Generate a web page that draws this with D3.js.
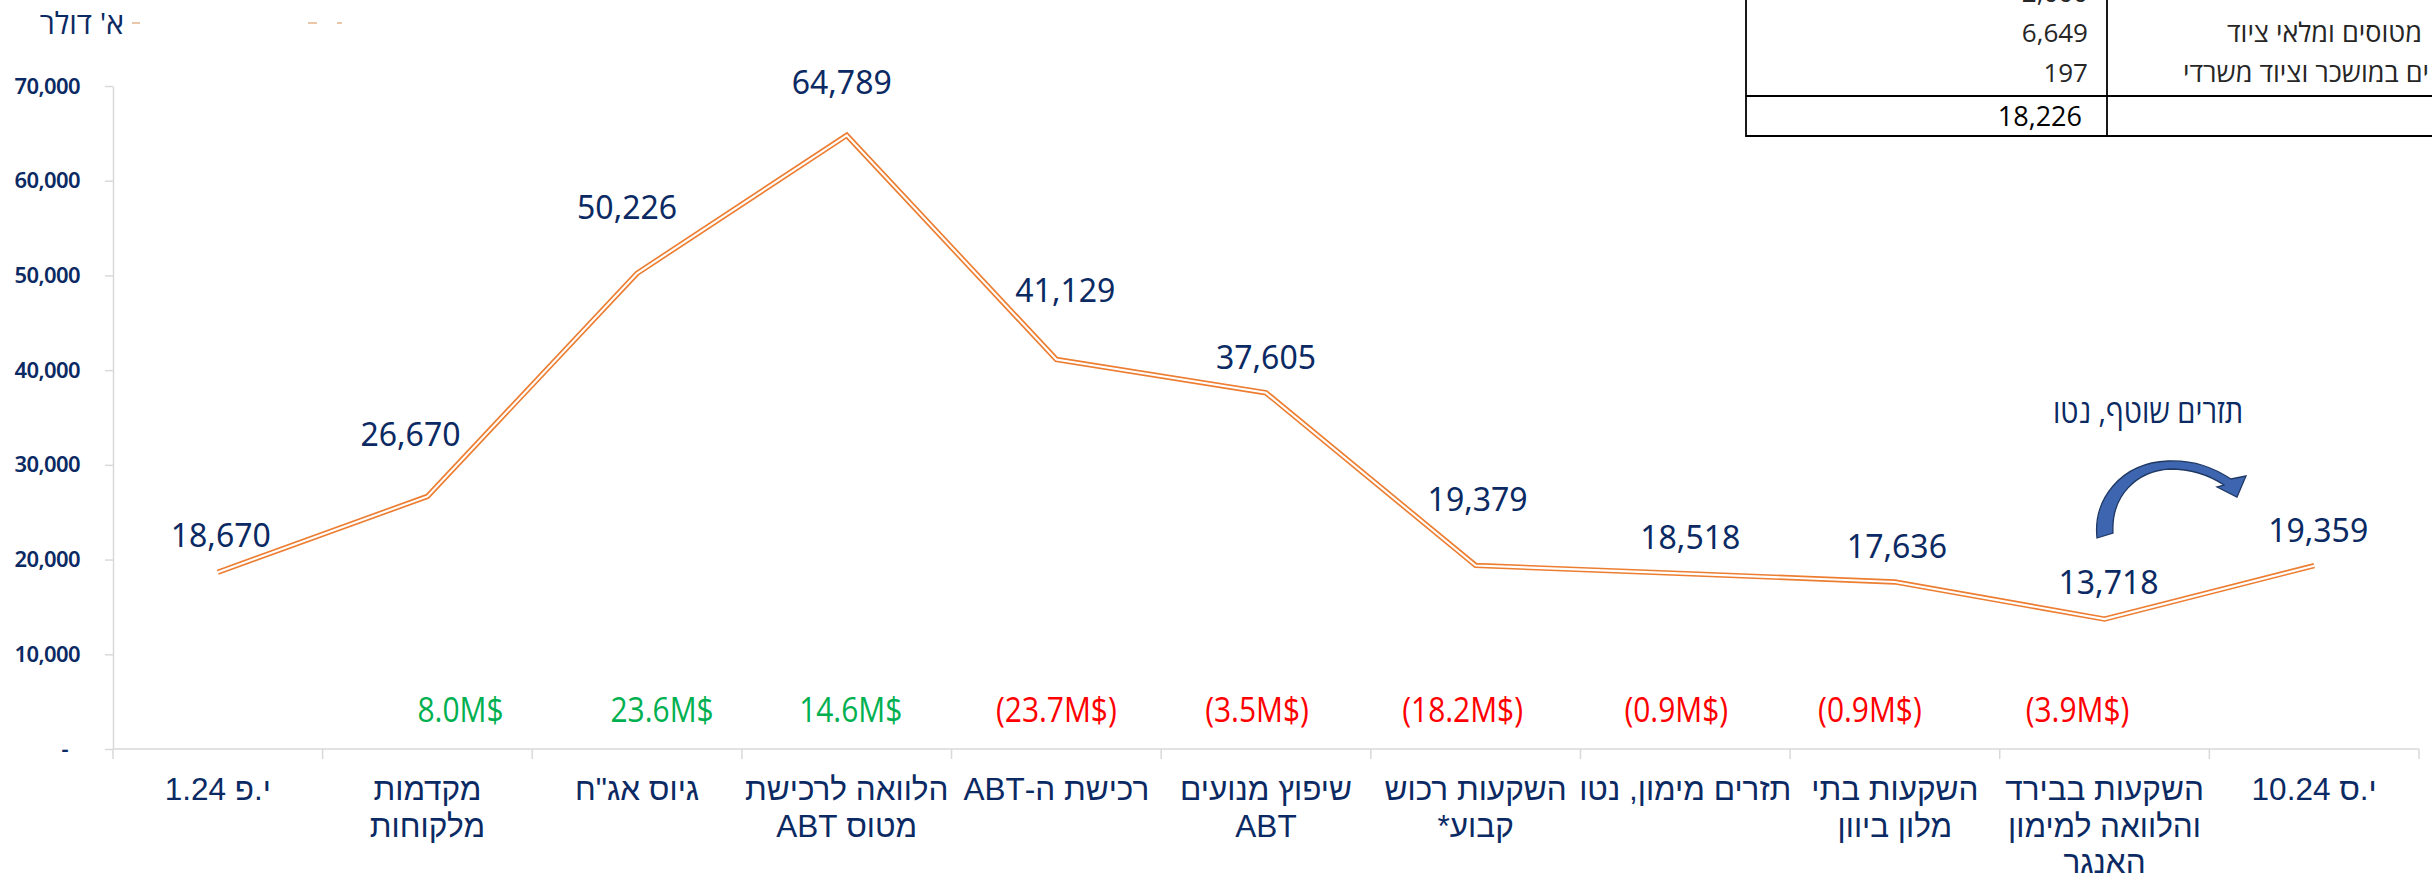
<!DOCTYPE html>
<html><head><meta charset="utf-8">
<script src="https://cdn.jsdelivr.net/npm/d3@7/dist/d3.min.js"></script>
<style>body{margin:0;background:#fff}svg{display:block}</style>
</head><body>
<svg id="chart" width="2432" height="882"></svg>
<script>
// ---- data ----
const categories = [
  ["י.פ 1.24"],
  ["מקדמות", "מלקוחות"],
  ["גיוס אג\"ח"],
  ["הלוואה לרכישת", "מטוס ABT"],
  ["רכישת ה-ABT"],
  ["שיפוץ מנועים", "ABT"],
  ["השקעות רכוש", "קבוע*"],
  ["תזרים מימון, נטו"],
  ["השקעות בתי", "מלון ביוון"],
  ["השקעות בבירד", "והלוואה למימון", "האנגר"],
  ["י.ס 10.24"]
];
const balances = [18670, 26670, 50226, 64789, 41129, 37605, 19379, 18518, 17636, 13718, 19359];
const changesM = [null, 8.0, 23.6, 14.6, -23.7, -3.5, -18.2, -0.9, -0.9, -3.9, null];
const yTicks = [0, 10000, 20000, 30000, 40000, 50000, 60000, 70000];
const unitTitle = "א' דולר";
const arrowNote = "תזרים שוטף, נטו";
const tableLabels = ["", "מטוסים ומלאי ציוד", "ים במושכר וציוד משרדי"];
const tableValues = ["2,000", "6,649", "197"];
const tableTotal = "18,226";

// ---- manual label nudges (layout, kept apart from data) ----
const labelDx = [3, -17, -10, -5, 9, 0, 2, 5, 2, 4, 4];
const labelDy = [25, 50, 54, 41, 57, 24, 54, 25, 24, 25, 24];
const changeDx = [0, 33, 25, 4, 0, -9, -13, -9, -25, -27, 0];

const navy = "#0B2A63";
const svg = d3.select("#chart");

const x = d3.scaleBand().domain(d3.range(categories.length)).range([113, 2419]).padding(0);
const y = d3.scaleLinear().domain([0, 70000]).range([749, 86]);
const cx = i => x(i) + x.bandwidth() / 2;

// narrow-text helper: taller, condensed glyphs
function narrowText(g, tx, ty, str, size, fill, anchor, dir, sx) {
  return g.append("text")
    .attr("transform", `translate(${tx},${ty}) scale(${sx || 0.88},1)`)
    .attr("text-anchor", anchor).attr("direction", dir)
    .attr("font-family", "'Open Sans'").attr("font-size", size).attr("fill", fill)
    .text(str);
}

// y axis
const yAxis = d3.axisLeft(y).tickValues(yTicks).tickSize(8).tickSizeOuter(0).tickPadding(25)
  .tickFormat(d => d === 0 ? "-" : d3.format(",")(d));
const gy = svg.append("g").attr("transform", "translate(113,0)").call(yAxis);
gy.select(".domain").attr("stroke", "#D9D9D9").attr("stroke-width", 1.5);
gy.selectAll(".tick line").attr("stroke", "#D9D9D9").attr("stroke-width", 1.5);
gy.selectAll(".tick text").attr("fill", navy).attr("font-family", "'Noto Sans'")
  .attr("font-size", 22).attr("font-weight", 600).attr("letter-spacing", -0.6)
  .attr("dx", d => d === 0 ? -12 : 0);

// x axis line + boundary ticks
const gx = svg.append("g");
gx.append("line").attr("x1", 113).attr("x2", x.range()[1]).attr("y1", y(0)).attr("y2", y(0))
  .attr("stroke", "#D9D9D9").attr("stroke-width", 1.5);
const bounds = d3.range(categories.length).map(i => x(i)).concat([x.range()[1]]);
gx.selectAll("line.b").data(bounds).join("line").attr("class", "b")
  .attr("x1", d => d).attr("x2", d => d).attr("y1", y(0)).attr("y2", y(0) + 10)
  .attr("stroke", "#D9D9D9").attr("stroke-width", 1.5);

// category labels (one text per line; compact line box font)
const catG = svg.append("g");
categories.forEach((lines, i) => {
  lines.forEach((s, k) => {
    catG.append("text")
      .attr("x", cx(i)).attr("y", 800 + k * 36.5)
      .attr("text-anchor", "middle").attr("direction", "rtl")
      .attr("font-family", "'Liberation Sans', Arial").attr("font-size", 31.5).attr("fill", navy)
      .text(s);
  });
});

// change labels
const fmtChange = v => v > 0 ? v.toFixed(1) + "M$" : "(" + Math.abs(v).toFixed(1) + "M$)";
const chG = svg.append("g");
changesM.forEach((v, i) => {
  if (v === null) return;
  narrowText(chG, cx(i) + changeDx[i], 722, fmtChange(v), 34, v > 0 ? "#00B050" : "#FF0000", "middle", "ltr");
});

// double orange line
const line = d3.line().x((d, i) => cx(i)).y(d => y(d));
svg.append("path").datum(balances).attr("d", line).attr("fill", "none")
  .attr("stroke", "#ED7D31").attr("stroke-width", 5.4).attr("stroke-linejoin", "miter");
svg.append("path").datum(balances).attr("d", line).attr("fill", "none")
  .attr("stroke", "#fff").attr("stroke-width", 2.1).attr("stroke-linejoin", "miter");

// data labels
svg.append("g").selectAll("text").data(balances).join("text")
  .attr("x", (d, i) => cx(i) + labelDx[i]).attr("y", (d, i) => y(d) - labelDy[i])
  .attr("text-anchor", "middle").attr("font-family", "'Noto Sans'").attr("font-size", 32)
  .attr("fill", navy).text(d => d3.format(",")(d));

// unit title
svg.append("text").attr("x", 124).attr("y", 34).attr("text-anchor", "start").attr("direction", "rtl")
  .attr("font-family", "'Open Sans'").attr("font-size", 30).attr("fill", navy).text(unitTitle);
// faint clipped marks at top
[[132, 140], [308, 317], [337, 342]].forEach(s => {
  svg.append("line").attr("x1", s[0]).attr("x2", s[1]).attr("y1", 23).attr("y2", 23)
    .attr("stroke", "#E3B48C").attr("stroke-width", 1.5);
});

// curved arrow + note
svg.append("path")
  .attr("d", "M2097,538 C2093,500 2120,463 2168,461 C2195,460 2214,468 2231,479 L2246,476 L2237,497 L2217,487 L2224,485 C2209,475 2190,469 2170,469 C2136,471 2111,496 2113,533 Z")
  .attr("fill", "#3E66B0").attr("stroke", "#1F3864").attr("stroke-width", 1.3);
narrowText(svg, 2148, 423, arrowNote, 33, navy, "middle", "rtl");

// clipped table (top right)
const tg = svg.append("g");
const rowY = [-7, 33, 73];
tableValues.forEach((v, i) => {
  tg.append("text").attr("x", 2088).attr("y", rowY[i] + 9).attr("text-anchor", "end")
    .attr("font-family", "'Open Sans'").attr("font-size", 26).attr("fill", "#262626").text(v);
  if (tableLabels[i]) {
    tg.append("text").attr("x", i === 2 ? 2429 : 2422).attr("y", rowY[i] + 9).attr("text-anchor", "start")
      .attr("direction", "rtl").attr("font-family", "'Open Sans'").attr("font-size", 27)
      .attr("fill", "#262626").text(tableLabels[i]);
  }
});
tg.append("text").attr("x", 2082).attr("y", 126).attr("text-anchor", "end")
  .attr("font-family", "'Open Sans'").attr("font-size", 27).attr("fill", "#000").text(tableTotal);
tg.append("line").attr("x1", 1746).attr("x2", 1746).attr("y1", 0).attr("y2", 137).attr("stroke", "#000").attr("stroke-width", 1.8);
tg.append("line").attr("x1", 2107).attr("x2", 2107).attr("y1", 0).attr("y2", 137).attr("stroke", "#000").attr("stroke-width", 1.8);
tg.append("line").attr("x1", 1746).attr("x2", 2432).attr("y1", 96).attr("y2", 96).attr("stroke", "#000").attr("stroke-width", 2);
tg.append("line").attr("x1", 1746).attr("x2", 2432).attr("y1", 136).attr("y2", 136).attr("stroke", "#000").attr("stroke-width", 1.8);
</script>
</body></html>
